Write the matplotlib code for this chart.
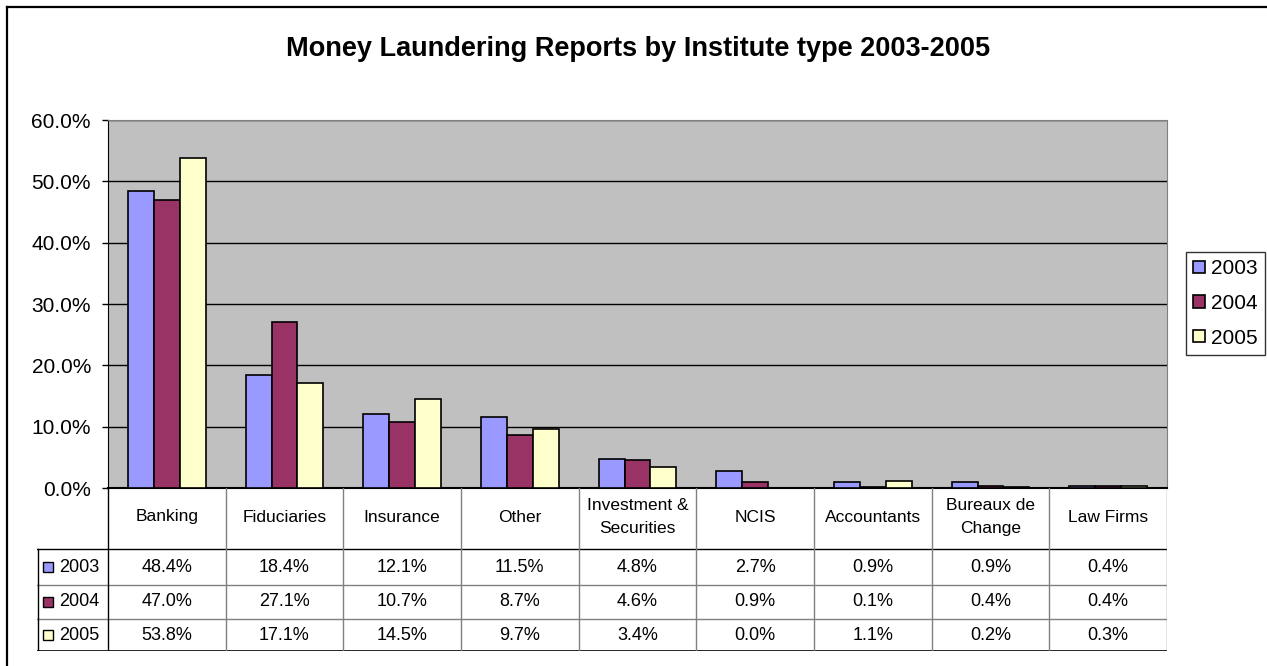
import numpy as np
import matplotlib
matplotlib.use("Agg")
import matplotlib.pyplot as plt
from matplotlib.lines import Line2D
from matplotlib.patches import Rectangle

plt.rcParams['font.family'] = ['Liberation Sans', 'DejaVu Sans']

categories = ["Banking", "Fiduciaries", "Insurance", "Other", "Investment &\nSecurities",
              "NCIS", "Accountants", "Bureaux de\nChange", "Law Firms"]
years = ["2003", "2004", "2005"]
v2003 = [48.4, 18.4, 12.1, 11.5, 4.8, 2.7, 0.9, 0.9, 0.4]
v2004 = [47.0, 27.1, 10.7, 8.7, 4.6, 0.9, 0.1, 0.4, 0.4]
v2005 = [53.8, 17.1, 14.5, 9.7, 3.4, 0.0, 1.1, 0.2, 0.3]
series = [v2003, v2004, v2005]
colors = ["#9999FF", "#993366", "#FFFFCC"]

W, H = 1267, 666
fig = plt.figure(figsize=(W / 100, H / 100), dpi=100)


def px_box(x0, y0, x1, y1):
    # pixel box (top-left origin) -> figure fraction rect
    return [x0 / W, 1 - y1 / H, (x1 - x0) / W, (y1 - y0) / H]


# plot area
PL, PR, PT, PB = 108, 1167, 120, 488
ax = fig.add_axes(px_box(PL, PT, PR, PB))
ax.set_facecolor("#C0C0C0")
n = len(categories)
x = np.arange(n)
bw = 0.22
for i, (vals, c, yr) in enumerate(zip(series, colors, years)):
    ax.bar(x + (i - 1) * bw, vals, width=bw, color=c, edgecolor="black",
           linewidth=1.2, label=yr, zorder=3)
ax.set_xlim(-0.5, n - 0.5)
ax.set_ylim(0, 60)
ax.set_yticks(np.arange(0, 61, 10))
ax.set_yticklabels([f"{t:.1f}%" for t in np.arange(0, 61, 10)], fontsize=15)
ax.yaxis.grid(True, color="black", linewidth=1, zorder=1)
ax.set_xticks([])
ax.tick_params(axis="y", direction="out", length=4.3, width=1, pad=8)
for side in ["top", "right"]:
    ax.spines[side].set_color("#808080")
ax.spines["left"].set_color("black")
ax.spines["bottom"].set_color("black")
ax.spines["bottom"].set_linewidth(1.5)

# legend
leg = fig.legend(loc="upper left", bbox_to_anchor=(1186 / W, 1 - 252 / H),
                 fontsize=15, frameon=True, fancybox=False, edgecolor="black",
                 handlelength=0.55, handleheight=0.55, handletextpad=0.3,
                 borderpad=0.35, labelspacing=0.75, borderaxespad=0)
leg.get_frame().set_linewidth(1)

# data table underneath
TL, TR, TB = 37, 1167, 651
rows_y = [PB, 549, 585, 619, TB]
col_w = (PR - PL) / n
tax = fig.add_axes(px_box(TL, PB, TR, TB))
tax.set_xlim(TL, TR)
tax.set_ylim(TB, PB)
tax.axis("off")

lk = dict(color="#808080", linewidth=1)
# horizontal lines
tax.add_line(Line2D([TL, TR], [rows_y[1]] * 2, color="black", linewidth=1))
for yy in rows_y[2:4]:
    tax.add_line(Line2D([TL, TR], [yy] * 2, **lk))
tax.add_line(Line2D([TL, TR], [TB - 0.5] * 2, color="black", linewidth=1.2))
# vertical lines
tax.add_line(Line2D([TL + 0.5, TL + 0.5], [rows_y[1], TB], color="black", linewidth=1))
tax.add_line(Line2D([PL, PL], [PB, TB], color="black", linewidth=1))
for j in range(1, n):
    xx = PL + j * col_w
    tax.add_line(Line2D([xx, xx], [PB, TB], **lk))
tax.add_line(Line2D([TR - 0.5, TR - 0.5], [PB, TB], **lk))

for j, cat in enumerate(categories):
    cx = PL + (j + 0.5) * col_w
    tax.text(cx, 517, cat, ha="center", va="center",
             fontsize=12.5, linespacing=1.7)
    for r, vals in enumerate(series):
        cy = (rows_y[r + 1] + rows_y[r + 2]) / 2
        tax.text(cx, cy, f"{vals[j]:.1f}%", ha="center", va="center", fontsize=13)

for r, (yr, c) in enumerate(zip(years, colors)):
    cy = (rows_y[r + 1] + rows_y[r + 2]) / 2
    tax.add_patch(Rectangle((43, cy - 5), 10, 10, facecolor=c, edgecolor="black",
                            linewidth=1))
    tax.text(59, cy, yr, ha="left", va="center", fontsize=13)

fig.text(638 / W, 1 - 56 / H, "Money Laundering Reports by Institute type 2003-2005",
         ha="center", va="baseline", fontsize=19.5, fontweight="bold")

# chart border
fig.add_artist(Line2D([7 / W, 1], [1 - 7 / H] * 2, color="black", linewidth=1.6))
fig.add_artist(Line2D([7 / W] * 2, [0, 1 - 7 / H], color="black", linewidth=1.6))

fig.savefig("out.png", dpi=100, facecolor="white")
